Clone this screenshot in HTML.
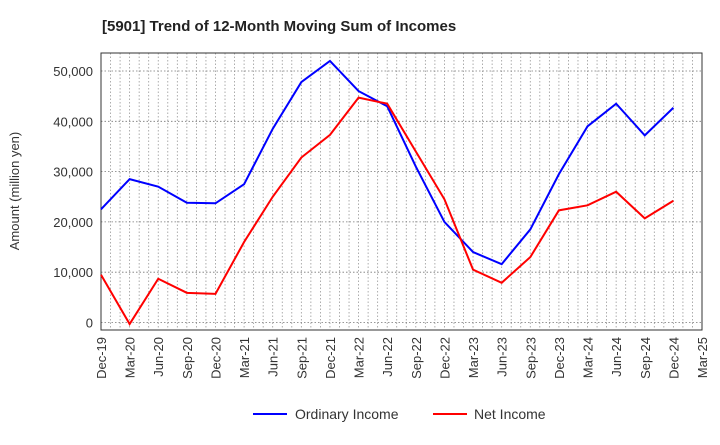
<!DOCTYPE html>
<html><head><meta charset="utf-8"><style>
body{margin:0;background:#fff;font-family:"Liberation Sans",sans-serif}
</style></head><body>
<svg id="chart" width="720" height="440" xmlns="http://www.w3.org/2000/svg" font-family="Liberation Sans, sans-serif">
<text x="102" y="31" font-size="15" font-weight="bold" fill="#222">[5901]  Trend of 12-Month Moving Sum of Incomes</text>
<g id="grid"></g><g id="axes"></g><g id="series"></g>
<text transform="translate(19,191) rotate(-90)" text-anchor="middle" font-size="13" fill="#333">Amount (million yen)</text>
<g>
<line x1="253" y1="414" x2="287" y2="414" stroke="#0000ff" stroke-width="2"/>
<text x="295" y="419" font-size="14" fill="#333">Ordinary Income</text>
<line x1="433" y1="414" x2="467" y2="414" stroke="#ff0000" stroke-width="2"/>
<text x="474" y="419" font-size="14" fill="#333">Net Income</text>
</g>
</svg>
<script>
const categories=["Dec-19","Mar-20","Jun-20","Sep-20","Dec-20","Mar-21","Jun-21","Sep-21","Dec-21","Mar-22","Jun-22","Sep-22","Dec-22","Mar-23","Jun-23","Sep-23","Dec-23","Mar-24","Jun-24","Sep-24","Dec-24","Mar-25"];
const ordinaryIncome=[22500,28500,27000,23800,23700,27500,38500,47800,52000,46000,43000,31000,20000,14000,11600,18500,29500,39000,43500,37200,42700];
const netIncome=[9500,-300,8700,5900,5700,16000,25000,32800,37300,44700,43500,34000,24500,10500,7900,13000,22300,23300,26000,20700,24200];
const yTicks=[0,10000,20000,30000,40000,50000];
const L=101,R=702,T=53,B=330;
const x=i=>L+i*(R-L)/(categories.length-1);
const y=v=>322.5-v*(322.5-71)/50000;
const NS="http://www.w3.org/2000/svg";
function mk(tag,attrs,parent){const e=document.createElementNS(NS,tag);for(const k in attrs)e.setAttribute(k,attrs[k]);parent.appendChild(e);return e;}
const grid=document.getElementById('grid'),axes=document.getElementById('axes'),series=document.getElementById('series');
for(let m=1;m<(categories.length-1)*3;m++){const xx=L+m*(R-L)/((categories.length-1)*3);
 const g=mk('line',{x1:xx,x2:xx,y1:T,y2:B,stroke:'#999','stroke-width':0.8,'stroke-dasharray':'1.5,2'},grid);
 }
yTicks.forEach(v=>{const g=mk('line',{x1:L,x2:R,y1:y(v),y2:y(v),stroke:'#777','stroke-width':0.8,'stroke-dasharray':'1.5,2'},grid);
 
 const t=mk('text',{x:L-8,y:y(v)+5,'text-anchor':'end','font-size':13,fill:'#333'},axes);t.textContent=v.toLocaleString('en-US');
 });
const fr=mk('rect',{x:L,y:T,width:R-L,height:B-T,fill:'none',stroke:'#333','stroke-width':1},axes);

categories.forEach((c,i)=>{const t=mk('text',{transform:`translate(${x(i)+5},${B+7}) rotate(-90)`,'text-anchor':'end','font-size':13,fill:'#333'},axes);t.textContent=c;
 });
function line(data,color,name){const p=mk('polyline',{points:data.map((v,i)=>x(i)+','+y(v)).join(' '),fill:'none',stroke:color,'stroke-width':2},series);
 }
line(ordinaryIncome,'#0000ff','ordinary-income-line');
line(netIncome,'#ff0000','net-income-line');
</script>
</body></html>
